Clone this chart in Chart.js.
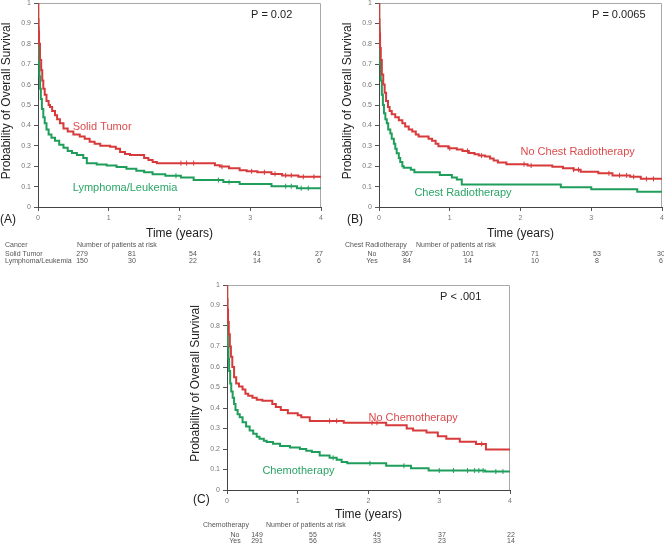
<!DOCTYPE html>
<html>
<head>
<meta charset="utf-8">
<script src="https://cdn.jsdelivr.net/npm/chart.js@4/dist/chart.umd.min.js"></script>
<style>
  html, body { margin: 0; padding: 0; background: #fff; width: 664px; height: 547px; overflow: hidden; }
  canvas { position: absolute; }
</style>
</head>
<body>
<canvas id="chart-a"></canvas>
<canvas id="chart-b"></canvas>
<canvas id="chart-c"></canvas>
<script>
"use strict";

const FONT = '"Liberation Sans", Arial, sans-serif';
const RED = "#d73a3b";
const GREEN = "#1f9d5b";
const RED_TEXT = "#dc4a4c";
const GREEN_TEXT = "#2aa566";

// (A) cancer type
const solidTumorTime = [0, 0.003, 0.008, 0.015, 0.028, 0.045, 0.06, 0.075, 0.095, 0.12, 0.15, 0.17, 0.2, 0.24, 0.27, 0.31, 0.36, 0.42, 0.5, 0.59, 0.66, 0.73, 0.8, 0.88, 1.02, 1.1, 1.16, 1.23, 1.3, 1.5, 1.56, 1.62, 1.68, 2.5, 2.57, 2.7, 2.85, 2.95, 3.1, 3.3, 3.45, 3.68, 4];
const solidTumorSurv = [1, 0.92, 0.86, 0.8, 0.72, 0.67, 0.62, 0.58, 0.55, 0.52, 0.5, 0.49, 0.47, 0.45, 0.43, 0.41, 0.385, 0.37, 0.355, 0.345, 0.335, 0.32, 0.31, 0.3, 0.295, 0.285, 0.27, 0.26, 0.255, 0.24, 0.23, 0.22, 0.215, 0.205, 0.198, 0.19, 0.18, 0.175, 0.17, 0.162, 0.155, 0.148, 0.148];
const solidTumorCensor = [2.02, 2.1, 2.2, 2.6, 3.02, 3.2, 3.35, 3.5, 3.58, 3.75, 3.9];

const lymphomaTime = [0, 0.003, 0.008, 0.014, 0.02, 0.03, 0.04, 0.055, 0.075, 0.095, 0.12, 0.15, 0.19, 0.24, 0.3, 0.36, 0.42, 0.48, 0.55, 0.64, 0.69, 0.83, 0.97, 1.11, 1.25, 1.39, 1.5, 1.62, 1.8, 2.02, 2.2, 2.62, 2.85, 3.3, 3.66, 4];
const lymphomaSurv = [1, 0.88, 0.78, 0.7, 0.64, 0.58, 0.53, 0.48, 0.44, 0.41, 0.38, 0.355, 0.34, 0.325, 0.305, 0.29, 0.275, 0.265, 0.255, 0.24, 0.215, 0.208, 0.203, 0.196, 0.188, 0.178, 0.17, 0.16, 0.153, 0.145, 0.132, 0.122, 0.113, 0.102, 0.092, 0.092];
const lymphomaCensor = [1.95, 2.55, 2.7, 3.5, 3.58, 3.72, 3.82];

// (B) chest radiotherapy
const noChestRtTime = [0, 0.003, 0.008, 0.015, 0.025, 0.04, 0.06, 0.08, 0.1, 0.127, 0.15, 0.18, 0.23, 0.28, 0.33, 0.37, 0.42, 0.47, 0.52, 0.56, 0.7, 0.75, 0.8, 0.84, 0.98, 1.1, 1.18, 1.27, 1.35, 1.41, 1.5, 1.57, 1.62, 1.68, 1.8, 2.1, 2.45, 2.6, 2.75, 2.85, 3.1, 3.3, 3.55, 3.7, 4];
const noChestRtSurv = [1, 0.92, 0.85, 0.78, 0.72, 0.65, 0.6, 0.56, 0.52, 0.49, 0.47, 0.455, 0.44, 0.425, 0.41, 0.395, 0.38, 0.37, 0.355, 0.345, 0.335, 0.325, 0.31, 0.298, 0.288, 0.282, 0.275, 0.265, 0.258, 0.252, 0.248, 0.238, 0.228, 0.218, 0.21, 0.203, 0.197, 0.19, 0.183, 0.173, 0.165, 0.155, 0.148, 0.138, 0.138];
const noChestRtCensor = [1.0, 1.25, 1.45, 2.05, 2.15, 2.75, 2.82, 3.25, 3.4, 3.5, 3.6, 3.78, 3.88];

const chestRtTime = [0, 0.003, 0.008, 0.015, 0.025, 0.04, 0.055, 0.07, 0.09, 0.11, 0.13, 0.16, 0.18, 0.21, 0.23, 0.25, 0.28, 0.3, 0.33, 0.35, 0.45, 0.5, 0.86, 1.03, 1.1, 1.17, 2.57, 3.0, 3.65, 4];
const chestRtSurv = [1, 0.88, 0.78, 0.7, 0.62, 0.55, 0.5, 0.46, 0.43, 0.41, 0.38, 0.36, 0.335, 0.31, 0.285, 0.263, 0.24, 0.22, 0.2, 0.193, 0.183, 0.17, 0.157, 0.145, 0.135, 0.11, 0.097, 0.087, 0.075, 0.075];
const chestRtCensor = [];

// (C) chemotherapy
const noChemoTime = [0, 0.003, 0.008, 0.015, 0.025, 0.04, 0.055, 0.075, 0.1, 0.13, 0.17, 0.22, 0.26, 0.3, 0.36, 0.42, 0.5, 0.64, 0.69, 0.76, 0.86, 1.0, 1.05, 1.17, 1.65, 2.25, 2.54, 2.63, 2.82, 2.98, 3.1, 3.29, 3.52, 3.66, 4];
const noChemoSurv = [1, 0.93, 0.88, 0.82, 0.76, 0.7, 0.65, 0.6, 0.55, 0.52, 0.505, 0.49, 0.47, 0.46, 0.45, 0.44, 0.435, 0.42, 0.405, 0.39, 0.375, 0.365, 0.355, 0.337, 0.328, 0.316, 0.3, 0.29, 0.28, 0.262, 0.25, 0.235, 0.225, 0.197, 0.197];
const noChemoCensor = [1.45, 1.55, 2.05, 2.12, 3.6];

const chemoTime = [0, 0.002, 0.006, 0.012, 0.02, 0.03, 0.045, 0.06, 0.08, 0.1, 0.12, 0.15, 0.18, 0.22, 0.27, 0.32, 0.37, 0.42, 0.46, 0.52, 0.56, 0.65, 0.75, 0.89, 1.03, 1.12, 1.2, 1.31, 1.45, 1.55, 1.62, 1.7, 2.25, 2.6, 2.85, 3.65, 4];
const chemoSurv = [1, 0.88, 0.78, 0.7, 0.64, 0.58, 0.52, 0.48, 0.45, 0.42, 0.39, 0.37, 0.355, 0.33, 0.31, 0.29, 0.275, 0.26, 0.25, 0.24, 0.234, 0.226, 0.215, 0.207, 0.2, 0.192, 0.185, 0.168, 0.157, 0.148, 0.136, 0.13, 0.118, 0.106, 0.095, 0.09, 0.09];
const chemoCensor = [1.5, 2.02, 2.5, 3.0, 3.2, 3.4, 3.5, 3.56, 3.62, 3.8, 3.9];

// number of patients at risk at each table column
const riskSolidTumor = [279, 81, 54, 41, 27];
const riskLymphoma = [150, 30, 22, 14, 6];
const riskNoChestRt = [367, 101, 71, 53, 30];
const riskChestRt = [84, 14, 10, 8, 6];
const riskNoChemo = [149, 55, 45, 37, 22];
const riskChemo = [291, 56, 33, 23, 14];

// extra room round the plot area inside each canvas
const PAD = { left: 60, top: 15, right: 20, bottom: 70 };

const panels = [
  {
    id: "chart-a",
    area: { left: 38, top: 3, right: 321, bottom: 207 },
    letter: "(A)", letterX: 0, letterY: 220,
    pValue: "P = 0.02",
    xTitleY: 234,
    curves: [
      { label: "Solid Tumor", time: solidTumorTime, surv: solidTumorSurv, censor: solidTumorCensor, color: RED, textColor: RED_TEXT, labelAt: [0.49, 0.39] },
      { label: "Lymphoma/Leukemia", time: lymphomaTime, surv: lymphomaSurv, censor: lymphomaCensor, color: GREEN, textColor: GREEN_TEXT, labelAt: [0.49, 0.093] },
    ],
    risk: {
      title: "Cancer", titleX: 5, headerX: 77, headerY: 245,
      rowLabels: ["Solid Tumor", "Lymphoma/Leukemia"], rowLabelX: 5, rowLabelAlign: "left",
      rows: [riskSolidTumor, riskLymphoma], rowY: [254, 261],
      colX: [82, 132, 193, 257, 319],
    },
  },
  {
    id: "chart-b",
    area: { left: 379, top: 3, right: 662, bottom: 207 },
    letter: "(B)", letterX: 347, letterY: 220,
    pValue: "P = 0.0065",
    xTitleY: 234,
    curves: [
      { label: "No Chest Radiotherapy", time: noChestRtTime, surv: noChestRtSurv, censor: noChestRtCensor, color: RED, textColor: RED_TEXT, labelAt: [2.0, 0.27] },
      { label: "Chest Radiotherapy", time: chestRtTime, surv: chestRtSurv, censor: chestRtCensor, color: GREEN, textColor: GREEN_TEXT, labelAt: [0.5, 0.07] },
    ],
    risk: {
      title: "Chest Radiotherapy", titleX: 345, headerX: 416, headerY: 245,
      rowLabels: ["No", "Yes"], rowLabelX: 372, rowLabelAlign: "center",
      rows: [riskNoChestRt, riskChestRt], rowY: [254, 261],
      colX: [407, 468, 535, 597, 661],
    },
  },
  {
    id: "chart-c",
    area: { left: 227, top: 285, right: 510, bottom: 490 },
    letter: "(C)", letterX: 193, letterY: 500,
    pValue: "P < .001",
    xTitleY: 515,
    curves: [
      { label: "No Chemotherapy", time: noChemoTime, surv: noChemoSurv, censor: noChemoCensor, color: RED, textColor: RED_TEXT, labelAt: [2.0, 0.353] },
      { label: "Chemotherapy", time: chemoTime, surv: chemoSurv, censor: chemoCensor, color: GREEN, textColor: GREEN_TEXT, labelAt: [0.5, 0.093] },
    ],
    risk: {
      title: "Chemotherapy", titleX: 203, headerX: 266, headerY: 525,
      rowLabels: ["No", "Yes"], rowLabelX: 235, rowLabelAlign: "center",
      rows: [riskNoChemo, riskChemo], rowY: [535, 541.5],
      colX: [257, 313, 377, 442, 511],
    },
  },
];

function stepPoints(time, surv) {
  return time.map((t, i) => ({ x: t, y: surv[i] }));
}

// survival value the curve holds at a censoring time
function censorPoints(time, surv, censor) {
  return censor.map((c) => {
    let i = 0;
    while (i + 1 < time.length && time[i + 1] <= c) i++;
    return { x: c, y: surv[i] };
  });
}

const panelText = {
  id: "panelText",
  beforeDatasetsDraw(chart) {
    const { ctx, chartArea } = chart;
    ctx.save();
    ctx.strokeStyle = "#a8a8a8";
    ctx.lineWidth = 1;
    ctx.beginPath();
    ctx.moveTo(chartArea.left, chartArea.top + 0.5);
    ctx.lineTo(chartArea.right - 0.5, chartArea.top + 0.5);
    ctx.lineTo(chartArea.right - 0.5, chartArea.bottom);
    ctx.stroke();
    ctx.restore();
  },
  afterDraw(chart) {
    const panel = chart.options.plugins.panelText.panel;
    const { ctx, chartArea, scales } = chart;
    const ox = panel.area.left - PAD.left;
    const oy = panel.area.top - PAD.top;
    const text = (str, px, py, size, color, align) => {
      ctx.font = `${size}px ${FONT}`;
      ctx.fillStyle = color;
      ctx.textAlign = align || "left";
      ctx.textBaseline = "middle";
      ctx.fillText(str, px - ox, py - oy);
    };
    ctx.save();

    // y axis title
    ctx.save();
    ctx.translate(chartArea.left - 31, (chartArea.top + chartArea.bottom) / 2 - 4);
    ctx.rotate(-Math.PI / 2);
    ctx.font = `12px ${FONT}`;
    ctx.fillStyle = "#222";
    ctx.textAlign = "center";
    ctx.textBaseline = "middle";
    ctx.fillText("Probability of Overall Survival", 0, 0);
    ctx.restore();

    text("Time (years)", (panel.area.left + panel.area.right) / 2, panel.xTitleY, 12, "#222", "center");
    text(panel.letter, panel.letterX, panel.letterY, 12, "#222");
    text(panel.pValue, panel.area.left + 213, panel.area.top + 12, 11, "#222");

    for (const curve of panel.curves) {
      ctx.font = `11px ${FONT}`;
      ctx.fillStyle = curve.textColor;
      ctx.textAlign = "left";
      ctx.textBaseline = "middle";
      ctx.fillText(curve.label, scales.x.getPixelForValue(curve.labelAt[0]), scales.y.getPixelForValue(curve.labelAt[1]));
    }

    const risk = panel.risk;
    text(risk.title, risk.titleX, risk.headerY, 7, "#555");
    text("Number of patients at risk", risk.headerX, risk.headerY, 7, "#555");
    risk.rows.forEach((row, r) => {
      text(risk.rowLabels[r], risk.rowLabelX, risk.rowY[r], 7, "#555", risk.rowLabelAlign);
      row.forEach((n, c) => text(String(n), risk.colX[c], risk.rowY[r], 7, "#555", "center"));
    });
    ctx.restore();
  },
};

const tickFont = { family: FONT, size: 7 };

function axisOptions(extra) {
  return Object.assign({
    type: "linear",
    grid: { drawOnChartArea: false, drawTicks: true, tickLength: 4, color: "#555" },
    border: { color: "#444", width: 1 },
  }, extra);
}

for (const panel of panels) {
  const canvas = document.getElementById(panel.id);
  const w = panel.area.right - panel.area.left + PAD.left + PAD.right;
  const h = panel.area.bottom - panel.area.top + PAD.top + PAD.bottom;
  canvas.width = w;
  canvas.height = h;
  canvas.style.left = panel.area.left - PAD.left + "px";
  canvas.style.top = panel.area.top - PAD.top + "px";
  canvas.style.width = w + "px";
  canvas.style.height = h + "px";

  const datasets = [];
  for (const curve of panel.curves) {
    datasets.push({
      label: curve.label,
      data: stepPoints(curve.time, curve.surv),
      stepped: "before",
      borderColor: curve.color,
      borderWidth: 2,
      pointRadius: 0,
      fill: false,
    });
    datasets.push({
      label: curve.label + " censored",
      data: censorPoints(curve.time, curve.surv, curve.censor),
      showLine: false,
      pointStyle: "line",
      pointRotation: 90,
      pointRadius: 2.5,
      pointBorderWidth: 1,
      pointBorderColor: curve.color,
    });
  }

  new Chart(canvas, {
    type: "line",
    data: { datasets },
    options: {
      responsive: false,
      animation: false,
      layout: { padding: { left: 0, top: PAD.top, right: PAD.right, bottom: 0 } },
      plugins: {
        legend: { display: false },
        tooltip: { enabled: false },
        panelText: { panel },
      },
      scales: {
        x: axisOptions({
          min: 0, max: 4,
          ticks: { stepSize: 1, font: tickFont, color: "#777", padding: 3 },
          afterFit: (scale) => { scale.height = PAD.bottom; },
        }),
        y: axisOptions({
          min: 0, max: 1,
          ticks: {
            stepSize: 0.1, font: tickFont, color: "#777", padding: 3,
            callback: (value) => String(Number(value.toFixed(1))),
          },
          afterFit: (scale) => { scale.width = PAD.left; },
        }),
      },
    },
    plugins: [panelText],
  });
}
</script>
</body>
</html>
